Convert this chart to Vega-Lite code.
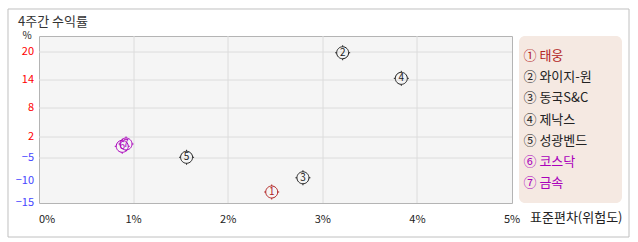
{
  "$schema": "https://vega.github.io/schema/vega-lite/v6.json",
  "padding": {"left": 6, "top": 7, "right": 10, "bottom": 6},
  "background": "white",
  "title": {"text": "4주간 수익률", "anchor": "start", "frame": "group", "orient": "top", "baseline": "top", "offset": -13, "dx": -21, "dy": 8, "font": "Noto Sans CJK KR", "fontSize": 13, "fontWeight": "normal", "color": "#333333"},
  "config": {
    "font": "Noto Sans CJK KR",
    "view": {"stroke": null},
    "axis": {"translate": 0}
  },
  "datasets": {
    "stocks": [
      {"sym": "①", "no": "1", "name": "태웅", "sd": 2.46, "ret": -12.5},
      {"sym": "②", "no": "2", "name": "와이지-원", "sd": 3.21, "ret": 19.9},
      {"sym": "③", "no": "3", "name": "동국S&C", "sd": 2.79, "ret": -9.3},
      {"sym": "④", "no": "4", "name": "제낙스", "sd": 3.83, "ret": 14.36},
      {"sym": "⑤", "no": "5", "name": "성광벤드", "sd": 1.56, "ret": -4.77},
      {"sym": "⑥", "no": "6", "name": "코스닥", "sd": 0.88, "ret": -1.19},
      {"sym": "⑦", "no": "7", "name": "금속", "sd": 0.92, "ret": -0.44}
    ]
  },
  "spacing": 7,
  "bounds": "flush",
  "resolve": {"scale": {"x": "independent", "y": "independent", "color": "independent"}},
  "hconcat": [
    {
      "width": 473,
      "height": 167,
      "view": {"fill": "#f5f5f5", "stroke": "#b4b4b4"},
      "layer": [
        {
          "data": {"values": [{"part": "frame"}]},
          "mark": {"type": "rect", "filled": false, "fill": "transparent", "stroke": "#c0c0c0", "strokeWidth": 1},
          "encoding": {
            "x": {"datum": -0.3277, "type": "quantitative", "scale": {"domain": [0, 5], "nice": false, "zero": false}},
            "x2": {"datum": 6.2368},
            "y": {"datum": -22.73, "type": "quantitative", "scale": {"domain": [-15, -10, -5, 2, 8, 14, 20, 23.5], "range": [167, 145, 122, 100.5, 72, 44, 16.3, 0], "nice": false, "zero": false}},
            "y2": {"datum": 29.3}
          }
        },
        {
          "data": {"name": "stocks"},
          "mark": {"type": "point", "shape": "M-0.8,0A0.8,0.8 0 1,1 0.8,0A0.8,0.8 0 1,1 -0.8,0ZM0,-1L0,-0.8M0,0.8L0,1M-1,0L-0.8,0M0.8,0L1,0", "size": 225, "filled": false, "strokeWidth": 1, "opacity": 1},
          "encoding": {
            "x": {
              "field": "sd", "type": "quantitative",
              "axis": {
                "values": [0, 1, 2, 3, 4, 5],
                "tickCount": 12,
                "labelExpr": "datum.value + '%'",
                "ticks": false, "domain": false, "grid": true,
                "gridColor": "#dcdcdc",
                "gridOpacity": {"condition": {"test": "datum.value == 0 || datum.value == 5", "value": 0}, "value": 1},
                "labelPadding": 11, "labelFontSize": 11, "labelColor": "#222222", "labelOverlap": false,
                "labelAlign": {"condition": {"test": "datum.value == 0", "value": "left"}, "value": "center"},
                "title": "표준편차(위험도)",
                "titleX": 491, "titleY": 15, "titleAlign": "left", "titleBaseline": "middle",
                "titleFontSize": 13, "titleFontWeight": "normal", "titleColor": "#222222"
              }
            },
            "y": {
              "field": "ret", "type": "quantitative",
              "axis": {
                "values": [20, 14, 8, 2, -5, -10, -15],
                "tickCount": 10,
                "ticks": false, "domain": false, "grid": true,
                "gridColor": "#dcdcdc",
                "gridOpacity": {"condition": {"test": "datum.value <= -10", "value": 0}, "value": 1},
                "labelPadding": 5, "labelFontSize": 11, "labelOverlap": false,
                "labelColor": {"condition": {"test": "datum.value >= 2", "value": "#ff0000"}, "value": "#4646ff"},
                "title": "%", "titleAngle": 0, "titleX": -12, "titleY": 0,
                "titleAlign": "center", "titleBaseline": "middle",
                "titleFontSize": 10, "titleFontWeight": "normal", "titleColor": "#222222"
              }
            },
            "color": {
              "field": "name", "type": "nominal",
              "scale": {"domain": ["태웅", "와이지-원", "동국S&C", "제낙스", "성광벤드", "코스닥", "금속"], "range": ["#b22222", "#222222", "#222222", "#222222", "#222222", "#aa00bb", "#aa00bb"]},
              "legend": null
            }
          }
        },
        {
          "data": {"name": "stocks"},
          "mark": {"type": "text", "fontSize": 10, "baseline": "middle", "align": "center"},
          "encoding": {
            "x": {"field": "sd", "type": "quantitative"},
            "y": {"field": "ret", "type": "quantitative"},
            "text": {"field": "no"},
            "color": {
              "field": "name", "type": "nominal",
              "scale": {"domain": ["태웅", "와이지-원", "동국S&C", "제낙스", "성광벤드", "코스닥", "금속"], "range": ["#b22222", "#222222", "#222222", "#222222", "#222222", "#aa00bb", "#aa00bb"]},
              "legend": null
            }
          }
        }
      ]
    },
    {
      "width": 103,
      "height": 167,
      "view": {"fill": "#f5e9e2", "stroke": null, "cornerRadius": 6},
      "data": {"name": "stocks"},
      "mark": {"type": "text", "align": "left", "baseline": "middle", "dx": -47, "fontSize": 13, "text": {"expr": "datum.sym + ' ' + datum.name"}},
      "encoding": {
        "y": {"field": "name", "type": "nominal", "sort": null, "scale": {"type": "point", "padding": 0.95, "align": 0.5}, "axis": null},
        "color": {
          "field": "name", "type": "nominal",
          "scale": {"domain": ["태웅", "와이지-원", "동국S&C", "제낙스", "성광벤드", "코스닥", "금속"], "range": ["#b22222", "#222222", "#222222", "#222222", "#222222", "#aa00bb", "#aa00bb"]},
          "legend": null
        }
      }
    }
  ]
}
